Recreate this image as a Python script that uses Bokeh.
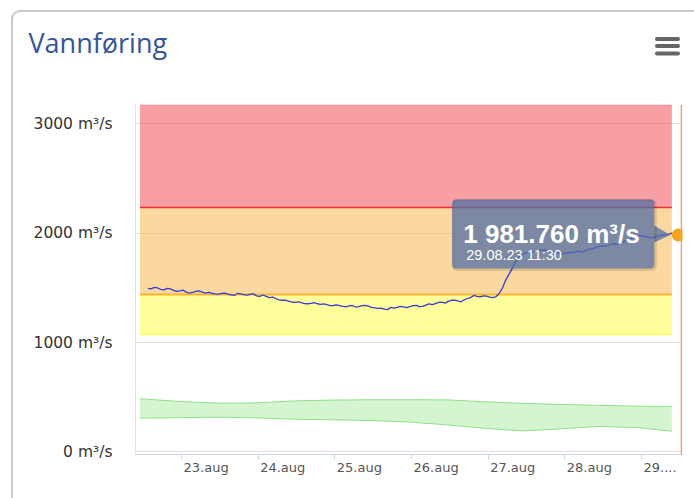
import pandas as pd
from bokeh.plotting import figure
from bokeh.models import (Range1d, LinearAxis, FixedTicker, Grid, BoxAnnotation,
                          Label, Span, InlineStyleSheet)
from bokeh.embed import file_html
from bokeh.resources import INLINE

# ---------------- data ----------------
title_text = "Vannføring"

flow_start = "2023-08-22 13:30"
flow_step = "1h"
flow_values = [
    1495, 1490, 1504, 1498, 1486, 1480, 1494, 1490, 1476, 1468,
    1472, 1478, 1460, 1452, 1458, 1466, 1472, 1460, 1452, 1458,
    1450, 1444, 1440, 1448, 1452, 1442, 1436, 1430, 1448, 1444,
    1438, 1432, 1440, 1444, 1426, 1422, 1434, 1422, 1410, 1414,
    1402, 1390, 1386, 1388, 1378, 1370, 1366, 1372, 1364, 1356,
    1354, 1358, 1364, 1354, 1348, 1352, 1346, 1336, 1338, 1344,
    1337, 1330, 1326, 1334, 1338, 1324, 1328, 1336, 1340, 1332,
    1320, 1316, 1312, 1314, 1304, 1300, 1320, 1314, 1322, 1330,
    1326, 1318, 1328, 1336, 1340, 1328, 1330, 1342, 1352, 1346,
    1356, 1366, 1368, 1360, 1376, 1384, 1388, 1380, 1372, 1390,
    1402, 1410, 1430, 1422, 1416, 1426, 1424, 1414, 1410, 1420,
    1450, 1500, 1570, 1622, 1675, 1730, 1780, 1800, 1815, 1826,
    1832, 1826, 1835, 1844, 1845, 1838, 1836, 1830, 1826, 1814,
    1808, 1818, 1824, 1822, 1830, 1836, 1826, 1840, 1852, 1856,
    1866, 1876, 1882, 1878, 1886, 1898, 1904, 1900, 1908, 1924,
    1938, 1946, 1958, 1968, 1977, 1972, 1966, 1958, 1956, 1968,
    1974, 1980, 1984, 1990, 1998, 1988, 1981.76,
]
last_value_text = "1 981.760 m³/s"
last_time_text = "29.08.23 11:30"

band_start = "2023-08-22 11:00"
band_end = "2023-08-29 09:30"
yellow_low = 1073
orange_low = 1438
red_low = 2233
red_high = 3170

normal_times = [
    "2023-08-22 11:00", "2023-08-22 23:00", "2023-08-23 11:00", "2023-08-23 23:00",
    "2023-08-24 11:00", "2023-08-24 23:00", "2023-08-25 11:00", "2023-08-25 23:00",
    "2023-08-26 11:00", "2023-08-26 23:00", "2023-08-27 11:00", "2023-08-27 23:00",
    "2023-08-28 11:00", "2023-08-28 23:00", "2023-08-29 09:30",
]
normal_upper = [486, 462, 446, 448, 466, 474, 477, 477, 476, 458, 444, 434, 426, 418, 416]
normal_lower = [309, 313, 318, 312, 300, 294, 288, 274, 248, 216, 192, 212, 234, 222, 190]

now_time = "2023-08-29 12:30"

y_ticks = [0, 1000, 2000, 3000]
y_tick_labels = ["0 m³/s", "1000 m³/s", "2000 m³/s", "3000 m³/s"]
x_tick_dates = ["2023-08-23", "2023-08-24", "2023-08-25", "2023-08-26",
                "2023-08-27", "2023-08-28", "2023-08-29"]
x_tick_labels = ["23.aug", "24.aug", "25.aug", "26.aug", "27.aug", "28.aug", "29...."]


def ms(t):
    return pd.to_datetime(t).value // 10**6


def ms_list(ts):
    return [int(v) // 10**6 for v in pd.to_datetime(ts).asi8]


flow_times = ms_list(pd.date_range(flow_start, periods=len(flow_values), freq=flow_step))
x_ticks = ms_list(x_tick_dates)

# ---------------- layout ----------------
W, H = 694, 498
ML, MR, MT, MB = 135, 12, 104, 44
FW, FH = W - ML - MR, H - MT - MB
xs, xe = ms("2023-08-22 09:36"), ms("2023-08-29 12:50")
ys, ye = -23, 3174
px_ms = FW / (xe - xs)
px_val = FH / (ye - ys)

card_css = """
:host { position: relative; overflow: hidden; }
:host::before {
  content: ""; position: absolute; left: 11px; top: 9.5px; width: 760px; height: 560px;
  border: 2px solid #cacaca; border-radius: 9px; box-sizing: border-box;
  pointer-events: none; z-index: 5;
}
:host::after {
  content: ""; position: absolute; left: 655px; top: 37px; width: 25px; height: 4px;
  background: #666666; border-radius: 2px; box-shadow: 0 7px 0 #666666, 0 14.5px 0 #666666;
  pointer-events: none; z-index: 5;
}
"""

p = figure(width=W, height=H, x_range=Range1d(xs, xe), y_range=Range1d(ys, ye),
           x_axis_location=None, y_axis_location=None, toolbar_location=None,
           output_backend="svg", min_border_left=ML, min_border_right=MR,
           min_border_top=MT, min_border_bottom=MB, outline_line_color=None,
           background_fill_color="white", border_fill_color="white",
           stylesheets=[InlineStyleSheet(css=card_css)])
p.center = [r for r in p.center if not isinstance(r, Grid)]

yaxis = LinearAxis(ticker=FixedTicker(ticks=y_ticks),
                   major_label_overrides=dict(zip(y_ticks, y_tick_labels)),
                   major_tick_out=0, major_tick_in=0, minor_tick_out=0, minor_tick_in=0,
                   axis_line_color="#dde3f0", axis_line_width=1,
                   major_label_standoff=23, major_label_text_font="DejaVu Sans",
                   major_label_text_font_size="15.5px", major_label_text_color="#333333")
p.add_layout(yaxis, "left")

# x axis: tick marks at midnight, labels left-aligned just right of each tick
tick_axis = LinearAxis(ticker=FixedTicker(ticks=x_ticks),
                       major_label_overrides={t: "" for t in x_ticks},
                       major_tick_out=5, major_tick_in=0, minor_tick_out=0, minor_tick_in=0,
                       axis_line_color="#ccd6eb", major_tick_line_color="#ccd6eb",
                       major_label_standoff=0, major_label_text_font_size="1px")
p.add_layout(tick_axis, "below")

char_w = {".": 0.318, "a": 0.613, "u": 0.634, "g": 0.635}
xfs = 13


def text_w(s):
    return sum(char_w.get(c, 0.636) for c in s) * xfs


label_pos = [t + (2 + text_w(s) / 2) / px_ms for t, s in zip(x_ticks, x_tick_labels)]
label_axis = LinearAxis(ticker=FixedTicker(ticks=label_pos),
                        major_label_overrides=dict(zip(label_pos, x_tick_labels)),
                        major_tick_out=0, major_tick_in=0, minor_tick_out=0, minor_tick_in=0,
                        axis_line_color=None, major_label_standoff=0,
                        major_label_text_font="DejaVu Sans",
                        major_label_text_font_size=f"{xfs}px",
                        major_label_text_color="#555555")
p.add_layout(label_axis, "below")

p.add_layout(Grid(dimension=1, ticker=FixedTicker(ticks=y_ticks),
                  grid_line_color="#e0e0e0", grid_line_width=1))

# threshold bands
bx = [ms(band_start), ms(band_end)]
p.varea(x=bx, y1=[red_low] * 2, y2=[red_high] * 2, fill_color="#f04048", fill_alpha=0.5)
p.varea(x=bx, y1=[orange_low] * 2, y2=[red_low] * 2, fill_color="#f5b141", fill_alpha=0.5)
p.varea(x=bx, y1=[yellow_low] * 2, y2=[orange_low] * 2, fill_color="#fdfd35", fill_alpha=0.5)
p.line(x=bx, y=[red_high] * 2, line_color="#f58a90", line_width=1)
p.line(x=bx, y=[red_low] * 2, line_color="#ee3030", line_width=1.6)
p.line(x=bx, y=[orange_low] * 2, line_color="#f6b52e", line_width=2)
p.line(x=bx, y=[yellow_low] * 2, line_color="#fbfb60", line_width=1.5)

# normal range (green)
nt = ms_list(normal_times)
p.varea(x=nt, y1=normal_lower, y2=normal_upper, fill_color="#73de62", fill_alpha=0.3)
p.line(x=nt, y=normal_upper, line_color="#8fdf88", line_width=1)
p.line(x=nt, y=normal_lower, line_color="#8fdf88", line_width=1)

# observed flow
p.line(x=flow_times, y=flow_values, line_color="#3a3ad6", line_width=1.3)

t_last, v_last = flow_times[-1], flow_values[-1]
p.add_layout(Span(location=ms(now_time), dimension="height", line_color="#f0a35e",
                  line_width=1.5))
p.scatter(x=[t_last], y=[v_last], size=13, fill_color="#f5a31a", line_color=None)


# tooltip
def dx(px):
    return t_last + px / px_ms


def dy(px):
    return v_last + px / px_val


p.add_layout(BoxAnnotation(left=dx(-225), right=dx(-23), top=dy(34.5), bottom=dy(-34.5),
                           fill_color=None, line_color="black", line_alpha=0.12,
                           line_width=3, border_radius=4))
p.add_layout(BoxAnnotation(left=dx(-226), right=dx(-24), top=dy(35.5), bottom=dy(-33.5),
                           fill_color="#536fa4", fill_alpha=0.75, line_color=None,
                           border_radius=4))
p.patch(x=[dx(-24), dx(-8), dx(-24)], y=[dy(9.5), dy(0), dy(-7.5)],
        fill_color="#536fa4", fill_alpha=0.75, line_color=None)
p.add_layout(Label(x=t_last, y=v_last, x_offset=-215, y_offset=1.5, text=last_value_text,
                   text_font="Liberation Sans", text_font_style="bold",
                   text_font_size="26px", text_color="white", text_baseline="alphabetic"))
p.add_layout(Label(x=t_last, y=v_last, x_offset=-212, y_offset=-19.5, text=last_time_text,
                   text_font="Liberation Sans", text_font_size="14.5px",
                   text_color="white", text_baseline="alphabetic"))

# card title (side-panel annotation: not clipped to the frame)
p.add_layout(Label(x=xs + (28 - ML) / px_ms, y=ys + (MT + FH - 42) / px_val, text=title_text,
                   text_font="Open Sans", text_font_size="27px", text_color="#34559a",
                   text_baseline="alphabetic"), "above")

open("out.html", "w").write(file_html(p, INLINE))
